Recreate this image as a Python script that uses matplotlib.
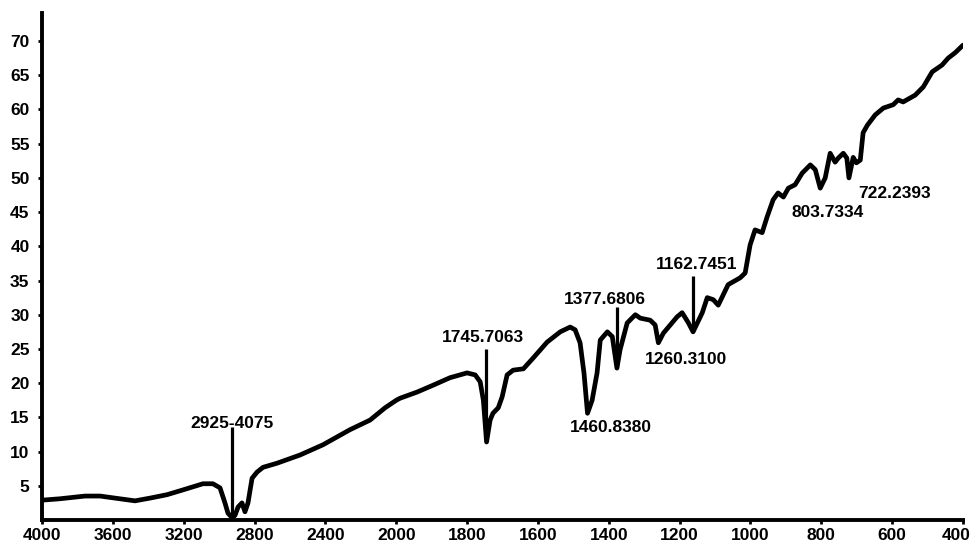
import numpy as np
from matplotlib import pyplot as plt
from matplotlib.transforms import ScaledTranslation

plt.rcParams['font.family'] = ['Liberation Sans', 'DejaVu Sans']
plt.rcParams['font.weight'] = 'bold'

# IR spectrum (wavenumber cm-1, transmittance %)
wavenumber = [4000, 3900, 3757, 3672, 3560, 3475, 3390, 3294, 3204, 3091,
              3035, 2995, 2967, 2950, 2925, 2910, 2893, 2871, 2854, 2837,
              2814, 2786, 2752, 2673, 2543, 2413, 2261, 2148, 2063, 2000,
              1989, 1941, 1896, 1848, 1800, 1777, 1763, 1754, 1745, 1735,
              1727, 1712, 1701, 1687, 1670, 1641, 1613, 1574, 1537, 1509,
              1495, 1481, 1470, 1460, 1447, 1433, 1424, 1404, 1390, 1377,
              1368, 1348, 1325, 1311, 1283, 1269, 1260, 1246, 1207, 1193,
              1175, 1162, 1136, 1122, 1105, 1091, 1077, 1063, 1029, 1015,
              1001, 987, 967, 953, 936, 922, 907, 893, 874, 854,
              831, 817, 803, 789, 775, 761, 752, 738, 728, 722,
              710, 701, 690, 682, 670, 648, 625, 597, 583, 569,
              535, 512, 487, 459, 442, 422, 400]
transmittance = [2.9, 3.1, 3.5, 3.5, 3.1, 2.8, 3.2, 3.7, 4.4, 5.3,
                 5.3, 4.7, 2.5, 1.0, 0.3, 0.7, 1.9, 2.5, 1.2, 2.5,
                 6.1, 7.0, 7.7, 8.3, 9.5, 11.0, 13.2, 14.6, 16.4, 17.5,
                 17.8, 18.7, 19.7, 20.8, 21.5, 21.2, 20.2, 17.5, 11.4, 14.6,
                 15.6, 16.4, 18.0, 21.2, 21.9, 22.1, 23.7, 26.0, 27.5, 28.2,
                 27.8, 25.9, 21.5, 15.6, 17.5, 21.5, 26.3, 27.5, 26.8, 22.2,
                 24.9, 28.8, 30.0, 29.5, 29.2, 28.5, 25.9, 27.3, 29.7, 30.3,
                 28.8, 27.5, 30.3, 32.5, 32.2, 31.4, 32.9, 34.4, 35.4, 36.1,
                 40.2, 42.4, 42.0, 44.3, 46.8, 47.8, 47.2, 48.5, 49.0, 50.7,
                 51.9, 51.2, 48.5, 50.0, 53.6, 52.3, 52.9, 53.6, 52.9, 50.0,
                 53.0, 52.2, 52.6, 56.6, 57.7, 59.2, 60.2, 60.7, 61.4, 61.1,
                 62.1, 63.3, 65.5, 66.5, 67.5, 68.3, 69.4]

# peak labels: text, x, y of the label centre
peak_labels = ['2925-4075', '1745.7063', '1460.8380', '1377.6806',
               '1260.3100', '1162.7451', '803.7334', '722.2393']
label_x = [2927, 1754, 1393, 1410, 1181, 1153, 783, 594]
label_y = [14.1, 26.6, 13.5, 32.2, 23.5, 37.3, 45.0, 47.7]

# vertical marker lines
marker_x = [2925, 1745.7, 1377.7, 1162.7]
marker_bottom = [0, 11.7, 22.2, 27.8]
marker_top = [13.6, 25.0, 31.1, 35.7]

xticks = [4000, 3600, 3200, 2800, 2400, 2000, 1800, 1600, 1400, 1200,
          1000, 800, 600, 400]
yticks = list(range(5, 75, 5))


# the usual IR axis: scale doubles below 2000 cm-1
def fwd(x):
    x = np.asarray(x, dtype=float)
    return np.where(x <= 2000, x / 200.0, 10 + (x - 2000) / 400.0)


def inv(v):
    v = np.asarray(v, dtype=float)
    return np.where(v <= 10, v * 200.0, 2000 + (v - 10) * 400.0)


fig = plt.figure(figsize=(9.71, 5.45), dpi=100)
ax = fig.add_axes([42 / 971, 25 / 545, 921 / 971, 507 / 545])
ax.set_xscale('function', functions=(fwd, inv))

ax.plot(wavenumber, transmittance, color='black', lw=3.4,
        solid_joinstyle='round', solid_capstyle='round')
ax.vlines(marker_x, marker_bottom, marker_top, color='black', lw=2.3)
for txt, tx, ty in zip(peak_labels, label_x, label_y):
    ax.text(tx, ty, txt, ha='center', va='center', fontsize=12.5,
            fontweight='bold')

ax.set_xlim(4000, 400)
ax.set_ylim(0, 74.1)
ax.set_xticks(xticks)
ax.set_xticklabels([str(t) for t in xticks])
ax.set_yticks(yticks)
ax.set_yticklabels([str(t) for t in yticks])
ax.minorticks_off()

for side in ['top', 'right']:
    ax.spines[side].set_visible(False)
for side in ['left', 'bottom']:
    ax.spines[side].set_linewidth(2.8)

ax.tick_params(axis='both', direction='out', length=3, width=2,
               labelsize=12.5)
ax.tick_params(axis='y', pad=6)
ax.tick_params(axis='x', pad=3)
for lab in ax.get_xticklabels() + ax.get_yticklabels():
    lab.set_fontweight('bold')

# last label sits a little left so it stays inside the picture
last = ax.get_xticklabels()[-1]
last.set_transform(last.get_transform() +
                   ScaledTranslation(-7 / 100, 0, fig.dpi_scale_trans))

fig.savefig('out.png', dpi=100)
